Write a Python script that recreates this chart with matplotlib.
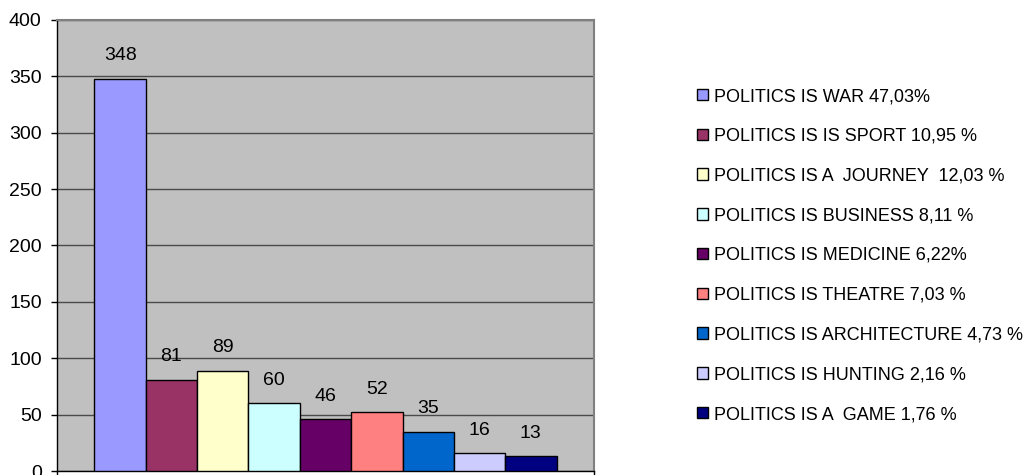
import matplotlib
matplotlib.use("Agg")
from matplotlib import pyplot as plt
import numpy as np

# metaphor counts and their share of the total
labels = ["POLITICS IS WAR 47,03%",
          "POLITICS IS IS SPORT 10,95 %",
          "POLITICS IS A  JOURNEY  12,03 %",
          "POLITICS IS BUSINESS 8,11 %",
          "POLITICS IS MEDICINE 6,22%",
          "POLITICS IS THEATRE 7,03 %",
          "POLITICS IS ARCHITECTURE 4,73 %",
          "POLITICS IS HUNTING 2,16 %",
          "POLITICS IS A  GAME 1,76 %"]
counts = [348, 81, 89, 60, 46, 52, 35, 16, 13]
colors = ["#9999FF", "#993366", "#FFFFCC", "#CCFFFF", "#660066",
          "#FF8080", "#0066CC", "#CCCCFF", "#000080"]

plt.rcParams['font.family'] = ['Liberation Sans', 'DejaVu Sans']

fig = plt.figure(figsize=(10.3, 4.75), dpi=100)
ax = fig.add_axes([57/1030, 4/475, 537/1030, 451/475])
ax.set_facecolor("#C0C0C0")

x = np.arange(len(counts))
handles = []
for i in range(len(counts)):
    b = ax.bar(x[i], counts[i], width=1.0, color=colors[i], edgecolor="black",
               linewidth=1.0, zorder=3, label=labels[i])
    handles.append(b)
    ax.annotate(str(counts[i]), (x[i], counts[i]), xytext=(0, 16.5),
                textcoords="offset points", ha="center", va="center",
                fontsize=14, zorder=4)

ax.set_xlim(-1.23, len(counts) - 1 + 1.23)
ax.set_ylim(0, 400)
ax.set_yticks(range(0, 401, 50))
ax.set_xticks([-1.23, len(counts) - 1 + 1.23])
ax.set_xticklabels(["", ""])
ax.tick_params(axis="y", labelsize=14, length=4, width=1, pad=7, direction="out")
ax.tick_params(axis="x", length=4, width=1, direction="out")
ax.yaxis.grid(True, color="#4a4a4a", linewidth=1.0, zorder=1)
ax.set_axisbelow(True)

ax.spines["left"].set_color("black")
ax.spines["bottom"].set_color("black")
ax.spines["left"].set_linewidth(1.0)
ax.spines["bottom"].set_linewidth(1.0)
for s in ["top", "right"]:
    ax.spines[s].set_color("#808080")
    ax.spines[s].set_linewidth(1.5)

leg = fig.legend(handles=handles, labels=labels, loc="upper left",
                 bbox_to_anchor=(697/1030, 1 - 88/475), bbox_transform=fig.transFigure,
                 frameon=False, fontsize=13, handlelength=0.6, handleheight=0.6,
                 handletextpad=0.35, labelspacing=1.26, borderpad=0, borderaxespad=0)

plt.savefig("out.png", dpi=100)
